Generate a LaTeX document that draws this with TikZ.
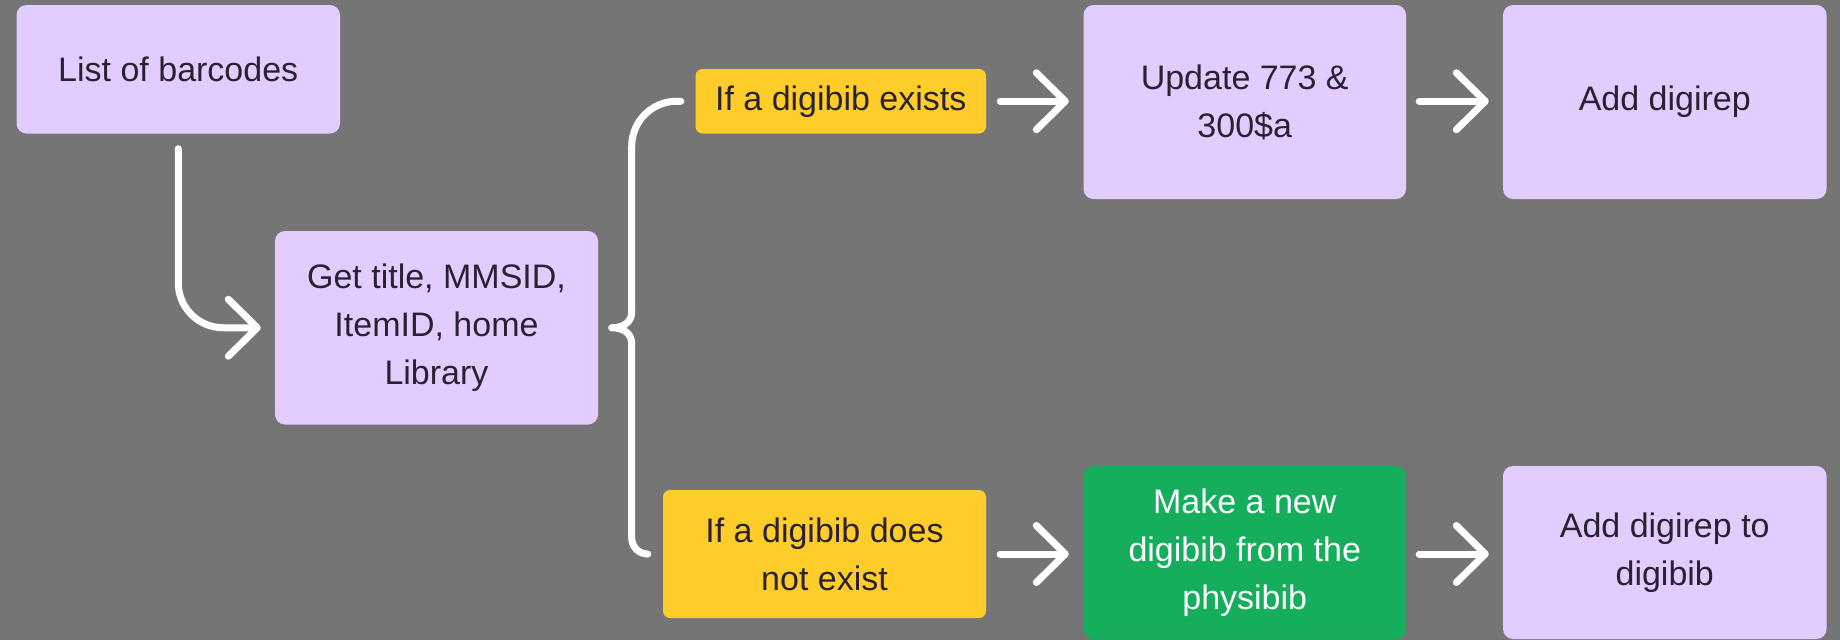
\documentclass[tikz,border=0pt]{standalone}
\usepackage{fontspec}
\setmainfont{Liberation Sans}
\usetikzlibrary{arrows.meta,calc}
\definecolor{bg}{HTML}{757575}
\definecolor{lav}{HTML}{E3CCFF}
\definecolor{yel}{HTML}{FFCD29}
\definecolor{grn}{HTML}{14AE5C}
\definecolor{ink}{HTML}{2A2230}
\tikzset{
  box/.style={rectangle, rounded corners=10pt, inner sep=0pt, align=center,
    font=\fontsize{34}{48}\selectfont, text=ink},
  lavbox/.style={box, fill=lav},
  yelbox/.style={box, fill=yel, rounded corners=7pt},
  grnbox/.style={box, fill=grn, text=white},
  flow/.style={draw=white, line width=7pt, line cap=round, line join=round,
    -{Straight Barb[length=29pt, width=57pt, round]}},
  bracepath/.style={draw=white, line width=7pt, line cap=round, line join=round}
}
\begin{document}
\begin{tikzpicture}[x=1pt, y=-1pt]
\fill[bg] (0,0) rectangle (1840,640);
\useasboundingbox (0,0) rectangle (1840,640);

\node[lavbox, minimum width=323.5pt, minimum height=128.5pt] (list) at (178.25,69.25) {List of barcodes};
\node[lavbox, minimum width=323pt, minimum height=193.5pt] (get) at (436.5,327.75) {Get title, MMSID,\\ItemID, home\\Library};
\node[yelbox, minimum width=290.5pt, minimum height=64.5pt] (y1) at (840.75,101.25) {If a digibib exists};
\node[yelbox, minimum width=323pt, minimum height=128pt] (y2) at (824.5,554) {If a digibib does\\not exist};
\node[lavbox, minimum width=322.5pt, minimum height=194pt] (upd) at (1244.75,102) {Update 773 \&\\300\$a};
\node[lavbox, minimum width=323.5pt, minimum height=194pt] (add1) at (1664.75,102) {Add digirep};
\node[grnbox, minimum width=322.5pt, minimum height=173pt] (mk) at (1244.75,552.5) {Make a new\\digibib from the\\physibib};
\node[lavbox, minimum width=323.5pt, minimum height=173pt] (add2) at (1664.75,552.5) {Add digirep to\\digibib};

% connectors
\draw[flow, rounded corners=45pt] ([yshift=-15pt]list.south) |- ([xshift=-14pt]get.west);
\draw[flow] ([xshift=14pt]y1.east) -- ([xshift=-14.5pt]upd.west |- y1.east);
\draw[flow] ([xshift=13pt]upd.east |- y1.east) -- ([xshift=-14pt]add1.west |- y1.east);
\draw[flow] ([xshift=14pt]y2.east) -- ([xshift=-14.5pt]mk.west |- y2.east);
\draw[flow] ([xshift=13pt]mk.east |- y2.east) -- ([xshift=-14pt]add2.west |- y2.east);

% brace
\coordinate (bt) at ([xshift=-14.5pt]y1.west);
\coordinate (bb) at ([xshift=-15pt]y2.west);
\coordinate (bc) at ([xshift=13.5pt]get.east);
\coordinate (sp) at ([xshift=20pt]bc);
\draw[bracepath, rounded corners=45pt] (bt) -| ([yshift=16pt]sp);
\draw[bracepath] ([yshift=16pt]sp) .. controls ([yshift=4pt]sp) and ([xshift=9.5pt]bc) .. (bc)
  .. controls ([xshift=9.5pt]bc) and ([yshift=-4pt]sp) .. ([yshift=-16pt]sp);
\draw[bracepath, rounded corners=16pt] ([yshift=-16pt]sp) |- (bb);
\end{tikzpicture}
\end{document}
